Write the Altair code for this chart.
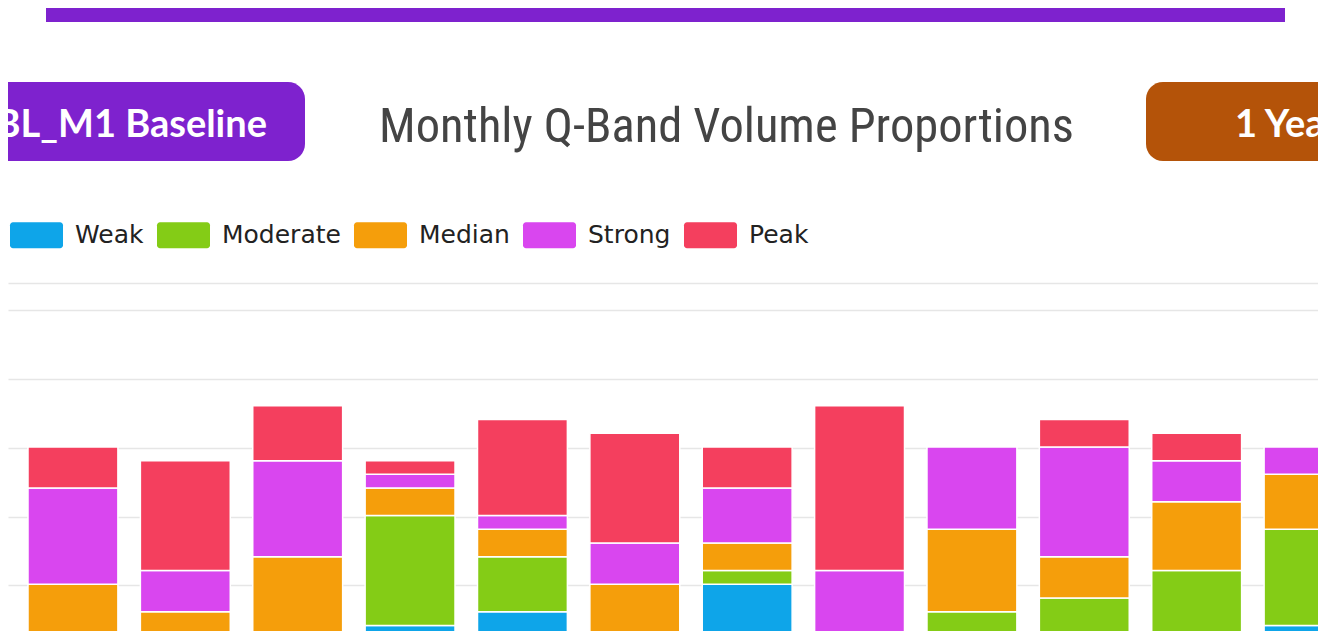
import altair as alt
import pandas as pd

# ---------------- data ----------------
months = ["Jan", "Feb", "Mar", "Apr", "May", "Jun", "Jul", "Aug", "Sep", "Oct", "Nov", "Dec"]
bands = ["Weak", "Moderate", "Median", "Strong", "Peak"]
band_colors = ["#0ea5e9", "#84cc16", "#f59e0b", "#d946ef", "#f43f5e"]

weak = [0, 0, 0, 2, 3, 0, 5, 0, 0, 0, 0, 2]
moderate = [0, 0, 0, 8, 4, 0, 1, 0, 3, 4, 6, 7]
median = [5, 3, 7, 2, 2, 5, 2, 0, 6, 3, 5, 4]
strong = [7, 3, 7, 1, 1, 3, 4, 6, 6, 8, 3, 2]
peak = [3, 8, 4, 1, 7, 8, 3, 12, 0, 2, 2, 0]

y_ticks = [0, 5, 10, 15, 20, 25, 27]

title_text = "Monthly Q-Band Volume Proportions"
left_badge = "BL_M1 Baseline"
right_badge = "1 Year"

series = [weak, moderate, median, strong, peak]
rows = []
for bi, (b, vals) in enumerate(zip(bands, series)):
    for m, v in zip(months, vals):
        rows.append({"month": m, "band": b, "idx": bi, "value": v})
df = pd.DataFrame(rows)

one = alt.Data(values=[{"k": 1}])

# rounded rectangle symbol, 2:1 ratio
r = 0.113
h = 0.49
sym = (f"M{-1 + r},{-h}H{1 - r}A{r},{r} 0 0 1 1,{-h + r}V{h - r}"
       f"A{r},{r} 0 0 1 {1 - r},{h}H{-1 + r}A{r},{r} 0 0 1 -1,{h - r}"
       f"V{-h + r}A{r},{r} 0 0 1 {-1 + r},{-h}Z")

bars = alt.Chart(df).transform_filter("datum.value > 0").mark_bar(
    stroke="white", strokeWidth=1.5, yOffset=-1
).encode(
    x=alt.X("month:N", sort=months,
            scale=alt.Scale(paddingInner=0.2, paddingOuter=0.178, range=[0, 1366]),
            axis=alt.Axis(title=None, ticks=False, domain=False, labels=False)),
    y=alt.Y("value:Q", stack="zero",
            scale=alt.Scale(domain=[0, 27], nice=False),
            axis=alt.Axis(title=None, values=y_ticks, labels=False, ticks=False,
                          domain=False, grid=True, gridColor="#e6e6e6", gridWidth=1.5)),
    color=alt.Color("band:N", scale=alt.Scale(domain=bands, range=band_colors),
                    legend=alt.Legend(orient="none", legendX=2, legendY=-74.5,
                                      direction="horizontal", title=None,
                                      symbolType=sym, symbolSize=2809,
                                      symbolStrokeWidth=0, symbolOpacity=1,
                                      labelFont="DejaVu Sans", labelFontSize=25,
                                      labelColor="#222", labelOffset=12,
                                      columnPadding=12, labelLimit=400)),
    order=alt.Order("idx:Q", sort="ascending"),
)

strip = alt.Chart(one).mark_rect(color="#7e22ce").encode(
    x=alt.value(38), x2=alt.value(1277), y=alt.value(-281), y2=alt.value(-261))

badge_l = alt.Chart(one).mark_rect(color="#7e22ce", cornerRadius=17).encode(
    x=alt.value(-40), x2=alt.value(297), y=alt.value(-201), y2=alt.value(-122))
badge_l_text = alt.Chart(one).mark_text(
    text=left_badge, font="Lato", fontSize=38, fontWeight="bold", color="white",
    align="right", baseline="alphabetic").encode(x=alt.value(259), y=alt.value(-146))

badge_r = alt.Chart(one).mark_rect(color="#b45309", cornerRadius=17).encode(
    x=alt.value(1138), x2=alt.value(1460), y=alt.value(-201), y2=alt.value(-122))
badge_r_text = alt.Chart(one).mark_text(
    text=right_badge, font="Lato", fontSize=38, fontWeight="bold", color="white",
    align="left", baseline="alphabetic").encode(x=alt.value(1227), y=alt.value(-146))

title = alt.Chart(one).mark_text(
    text=title_text, font="Roboto Condensed, Liberation Sans Narrow, Roboto",
    fontSize=48.5, color="#444444", align="center", baseline="alphabetic"
).encode(x=alt.value(718.5), y=alt.value(-141))

chart = alt.layer(
    strip, badge_l, badge_l_text, badge_r, badge_r_text, title, bars
).properties(
    width=1310, height=371,
    padding={"left": 0, "top": 275, "right": 0, "bottom": 0},
    autosize=alt.AutoSizeParams(type="none"),
).configure_view(stroke=None)

chart.save("out.html", embed_options={"renderer": "svg", "actions": False})
